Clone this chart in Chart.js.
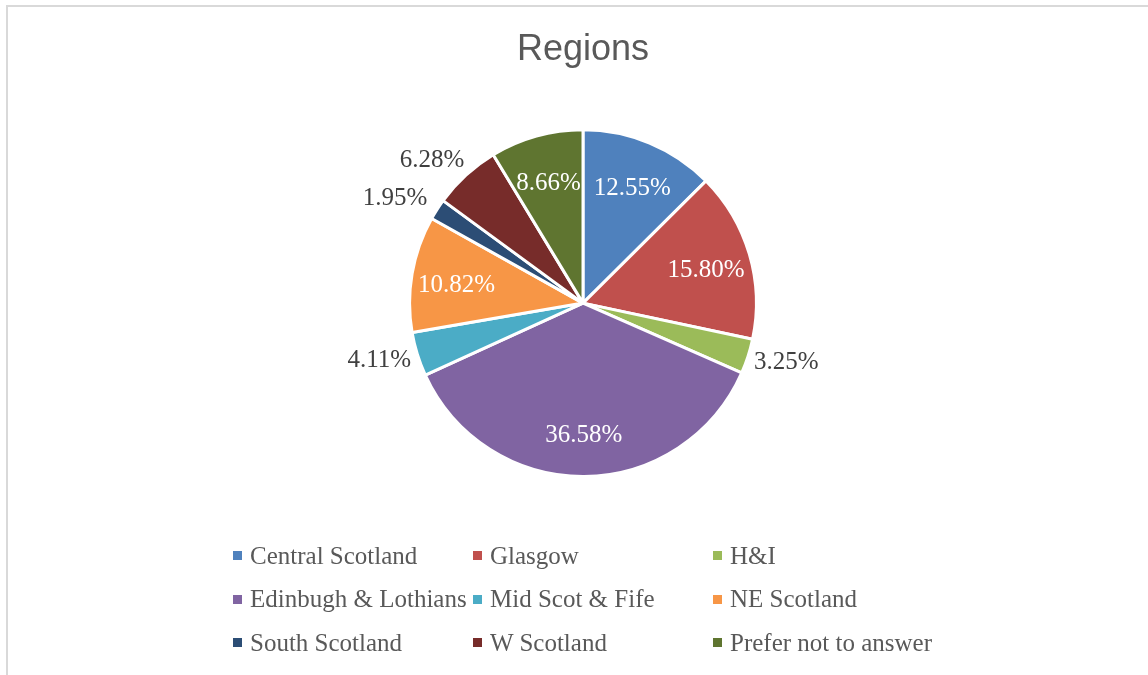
<!DOCTYPE html>
<html>
<head>
<meta charset="utf-8">
<title>Regions</title>
<script src="https://cdn.jsdelivr.net/npm/chart.js@4.4.0/dist/chart.umd.min.js"></script>
<style>
    body { margin: 0; background: #fff; }
    #wrap { position: relative; width: 1148px; height: 675px; overflow: hidden; }
    #frame { position: absolute; left: 6px; top: 5px; width: 1200px; height: 700px;
             border-left: 2px solid #d9d9d9; border-top: 2px solid #d9d9d9; }
    #regions { position: absolute; left: 0; top: 0; }
    #legend { position: absolute; left: 233px; top: 534px; display: grid;
              grid-template-columns: 240px 240px 240px; grid-auto-rows: 43.5px;
              font-family: "Liberation Serif", serif; font-size: 25px; color: #595959; }
    #legend div { display: flex; align-items: center; white-space: nowrap; }
    #legend span { display: inline-block; width: 9px; height: 9px; margin-right: 8px; }
</style>
</head>
<body>
<div id="wrap">
    <div id="frame"></div>
    <canvas id="regions" width="1148" height="675"></canvas>
    <div id="legend"></div>
</div>
<script>
let regions = ["Central Scotland", "Glasgow", "H&I", "Edinbugh & Lothians", "Mid Scot & Fife",
    "NE Scotland", "South Scotland", "W Scotland", "Prefer not to answer"];
let percents = [12.55, 15.80, 3.25, 36.58, 4.11, 10.82, 1.95, 6.28, 8.66];
let colores = ["#4f81bd", "#c0504d", "#9bbb59", "#8064a2", "#4bacc6",
    "#f79646", "#2c4d75", "#772c2a", "#5f7530"];

// small slices get their label outside the pie
let minInside = 8;

// legend as a 3 column grid
let legend = document.getElementById("legend");
regions.forEach(function (name, i) {
    let item = document.createElement("div");
    let box = document.createElement("span");
    box.style.background = colores[i];
    item.appendChild(box);
    item.appendChild(document.createTextNode(name));
    legend.appendChild(item);
});

const pieLabels = {
    id: "pieLabels",
    afterDatasetsDraw(chart) {
        let ctx = chart.ctx;
        let meta = chart.getDatasetMeta(0);
        ctx.save();
        ctx.font = "25px 'Liberation Serif'";
        ctx.textBaseline = "middle";
        ctx.textAlign = "center";
        meta.data.forEach(function (arc, i) {
            let p = arc.getProps(["x", "y", "startAngle", "endAngle", "outerRadius"], true);
            let mid = (p.startAngle + p.endAngle) / 2;
            let ux = Math.cos(mid), uy = Math.sin(mid);
            let text = percents[i].toFixed(2) + "%";
            if (percents[i] >= minInside) {
                let r = p.outerRadius * 0.74;
                ctx.fillStyle = "#ffffff";
                ctx.fillText(text, p.x + ux * r, p.y + uy * r + 4);
            } else {
                let w = ctx.measureText(text).width;
                let r = p.outerRadius + 8;
                // push upper labels a bit further out
                let k = uy < 0 ? 1.3 : 1;
                ctx.fillStyle = "#404040";
                ctx.fillText(text, p.x + ux * (r + k * w / 2), p.y + uy * (r + 12));
            }
        });
        ctx.restore();
    }
};

let ctx = document.getElementById("regions");
let grafico = new Chart(ctx, {
    type: "pie",
    data: {
        labels: regions,
        datasets: [
            {
                data: percents,
                backgroundColor: colores,
                borderColor: "#ffffff",
                borderWidth: 3,
            },
        ],
    },
    options: {
        responsive: false,
        animation: false,
        layout: { padding: { left: 18, top: 0, right: 0, bottom: 197 } },
        plugins: {
            legend: { display: false },
            tooltip: { enabled: false },
            title: {
                display: true,
                text: "Regions",
                color: "#595959",
                font: { family: "'Liberation Sans'", size: 36, weight: "normal" },
                padding: { top: 28, bottom: 57 },
            },
        },
    },
    plugins: [pieLabels],
});
</script>
</body>
</html>
